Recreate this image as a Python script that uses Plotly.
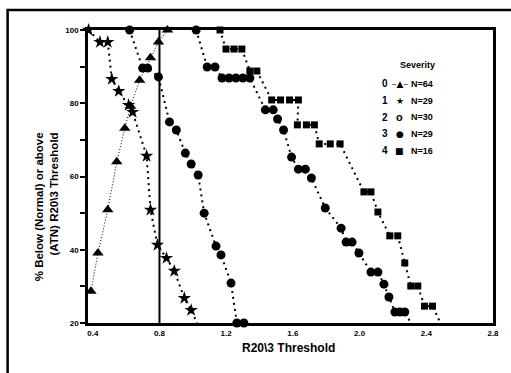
import plotly.graph_objects as go

# ---- data ----
SEVERITY = [0, 1, 2, 3, 4]
N_COUNTS = [64, 29, 30, 29, 16]
THRESHOLD = 0.8

sev0_x = [0.389, 0.431, 0.490, 0.544, 0.592, 0.627, 0.681, 0.746, 0.794, 0.848]
sev0_y = [28.7, 39.1, 50.9, 64.0, 73.2, 79.2, 86.3, 92.4, 96.7, 100]

sev1_x = [0.375, 0.443, 0.490, 0.514, 0.556, 0.615, 0.639, 0.723, 0.746, 0.788,
          0.842, 0.889, 0.949, 0.990, 1.026]
sev1_y = [100, 96.7, 96.7, 86.6, 83.3, 79.5, 77.6, 65.6, 50.9, 41.3,
          37.7, 34.2, 26.8, 23.5, 20]

sev2_x = [0.621, 0.699, 0.729, 0.794, 0.860, 0.901, 0.955, 0.990, 1.032, 1.068,
          1.139, 1.169, 1.229, 1.264, 1.306]
sev2_y = [100, 89.6, 89.6, 87.2, 74.9, 72.7, 66.4, 63.4, 60.4, 50.0,
          41.0, 38.6, 30.9, 20, 20]

sev3_x = [1.020, 1.086, 1.133, 1.175, 1.217, 1.258, 1.300, 1.342, 1.435, 1.482,
          1.508, 1.544, 1.592, 1.633, 1.675, 1.711, 1.794, 1.889, 1.919, 1.955,
          1.996, 2.068, 2.110, 2.146, 2.176, 2.212, 2.242, 2.271, 2.307]
sev3_y = [100, 89.9, 89.9, 86.9, 86.9, 86.9, 86.9, 86.9, 78.2, 78.2,
          75.7, 72.7, 65.3, 62.0, 62.0, 59.6, 51.4, 45.9, 42.1, 42.1,
          39.1, 33.9, 33.9, 30.6, 27.1, 23.0, 23.0, 23.0, 20]

sev4_x = [1.163, 1.199, 1.247, 1.294, 1.342, 1.384, 1.473, 1.526, 1.580, 1.633,
          1.627, 1.681, 1.729, 1.758, 1.824, 1.883, 2.026, 2.068, 2.110, 2.181,
          2.229, 2.271, 2.307, 2.349, 2.389, 2.437, 2.485]
sev4_y = [100, 94.8, 94.8, 94.8, 88.8, 88.8, 80.9, 80.9, 80.9, 80.9,
          74.1, 74.1, 74.1, 68.9, 68.9, 68.9, 55.8, 55.8, 50.3, 43.8,
          43.8, 36.4, 30.1, 30.1, 24.6, 24.6, 20]

X_TICKS = [0.4, 0.8, 1.2, 1.6, 2.0, 2.4, 2.8]
Y_TICKS = [20, 30, 40, 50, 60, 70, 80, 90, 100]
Y_TICK_TEXT = ["20", "", "40", "", "60", "", "80", "", "100"]

# ---- figure ----
FONT = "Liberation Sans"
fig = go.Figure()

def sizes(n, s, hide_last=False):
    out = [s] * n
    if hide_last:
        out[-1] = 0
    return out

series = [
    (sev0_x, sev0_y, "triangle-up", 10, False, dict(width=1, dash="1px,2px")),
    (sev1_x, sev1_y, "star", 10, True, dict(width=2, dash="2px,4px")),
    (sev2_x, sev2_y, "circle", 9, False, dict(width=2, dash="2px,4px")),
    (sev3_x, sev3_y, "circle", 9, True, dict(width=2, dash="2px,4px")),
    (sev4_x, sev4_y, "square", 7, True, dict(width=2, dash="2px,4px")),
]

for sev, (xs, ys, sym, sz, hide, line) in zip(SEVERITY, series):
    fig.add_trace(go.Scatter(
        x=xs, y=ys, mode="lines+markers", name=str(sev),
        line=dict(color="black", **line),
        marker=dict(symbol=sym, size=sizes(len(xs), sz, hide), color="black",
                    opacity=1, line=dict(width=0)),
        cliponaxis=False, showlegend=False,
    ))

# threshold line
fig.add_shape(type="line", xref="x", yref="paper", x0=THRESHOLD, x1=THRESHOLD,
              y0=0, y1=1, line=dict(color="black", width=2))

# outer frame
fig.add_shape(type="rect", xref="paper", yref="paper",
              x0=-0.1985, x1=1.05, y0=-0.2, y1=1.068,
              line=dict(color="black", width=2.5))

# custom legend
LEG_SYMBOLS = ["–▲–", "★", "<b>o</b>", "●", "■"]
LEG_SYMBOL_FONTS = ["DejaVu Sans", "DejaVu Sans", FONT, "DejaVu Sans", "DejaVu Sans"]
fig.add_annotation(xref="paper", yref="paper", x=0.814, y=0.881,
                   xanchor="center", yanchor="middle",
                   text="<b>Severity</b>", showarrow=False,
                   font=dict(family=FONT, size=9, color="black"))
row_y = [0.817, 0.758, 0.703, 0.646, 0.588]
for sev, n, sym, sfont, yy in zip(SEVERITY, N_COUNTS, LEG_SYMBOLS, LEG_SYMBOL_FONTS, row_y):
    fig.add_annotation(xref="paper", yref="paper", x=0.733, y=yy,
                       xanchor="center", yanchor="middle",
                       text=f"<b>{sev}</b>", showarrow=False,
                       font=dict(family=FONT, size=10, color="black"))
    fig.add_annotation(xref="paper", yref="paper", x=0.770, y=yy,
                       xanchor="center", yanchor="middle",
                       text=sym, showarrow=False,
                       font=dict(family=sfont, size=9 if sfont != FONT else 11,
                                 color="black"))
    fig.add_annotation(xref="paper", yref="paper", x=0.792, y=yy,
                       xanchor="left", yanchor="middle",
                       text=f"<b>N={n}</b>", showarrow=False,
                       font=dict(family=FONT, size=9, color="black"))

# axis titles
fig.add_annotation(xref="paper", yref="paper", x=0.495, y=-0.085,
                   xanchor="center", yanchor="middle",
                   text="<b>R20\\3 Threshold</b>", showarrow=False,
                   font=dict(family=FONT, size=12, color="black"))
fig.add_annotation(xref="paper", yref="paper", x=-0.1005, y=0.396,
                   xanchor="center", yanchor="middle",
                   text="<b>% Below (Normal) or above</b><br><b>(ATN) R20\\3 Threshold</b>",
                   textangle=-90, align="right", showarrow=False,
                   font=dict(family=FONT, size=11.5, color="black"))

fig.update_xaxes(range=[0.3714, 2.8], tickvals=X_TICKS, tickformat=".1f",
                 showgrid=False, zeroline=False, showline=True, mirror=True,
                 linecolor="black", linewidth=2.5, ticks="", ticklabelstandoff=1,
                 tickfont=dict(family=FONT, size=8, color="black", weight="bold"))
fig.update_yaxes(range=[20, 100], tickvals=Y_TICKS, ticktext=Y_TICK_TEXT,
                 showgrid=False, zeroline=False, showline=True, mirror=True,
                 linecolor="black", linewidth=2.5, ticks="outside", ticklen=5,
                 tickwidth=1.5, tickcolor="black",
                 tickfont=dict(family=FONT, size=8, color="black", weight="bold"))

fig.update_layout(width=511, height=373,
                  margin=dict(l=88, r=15, t=30, b=50),
                  paper_bgcolor="white", plot_bgcolor="white")

fig.write_html("out.html", config={"displayModeBar": False},
               post_script="document.body.style.margin='0';document.body.style.overflow='hidden';")
